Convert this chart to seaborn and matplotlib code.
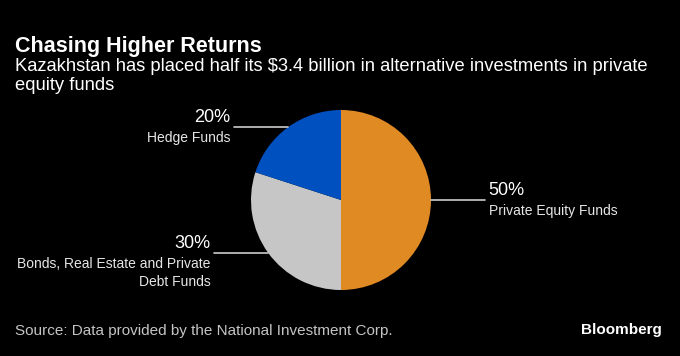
import numpy as np
import seaborn as sns
import matplotlib.pyplot as plt

# data
labels = ['Private Equity Funds', 'Bonds, Real Estate and Private\nDebt Funds', 'Hedge Funds']
shares = [50, 30, 20]
colors = ['#E08A24', '#C6C6C6', '#0050C0']

sns.set_style('dark')
plt.rcParams['font.family'] = ['Liberation Sans', 'DejaVu Sans']

fig = plt.figure(figsize=(6.8, 3.56), dpi=100, facecolor='black')
W, H = 680, 356

# pie axes: centre (341, 200), radius 90 px
ax = fig.add_axes([(341 - 90) / W, (H - 290) / H, 180 / W, 180 / H])
ax.set_facecolor('black')
wedges, _ = ax.pie(shares, colors=colors, startangle=90, counterclock=False,
                   radius=1, wedgeprops=dict(linewidth=0))
ax.set_xlim(-1, 1)
ax.set_ylim(-1, 1)
ax.set_aspect('equal')
ax.axis('off')

line_len = 0.6
for w, lab, s in zip(wedges, labels, shares):
    mid = np.deg2rad((w.theta1 + w.theta2) / 2)
    x0, y0 = np.cos(mid), np.sin(mid)
    side = 1 if x0 > 0.1 else -1
    x1 = x0 + side * line_len
    ax.plot([x0, x1], [y0, y0], color='#cccccc', lw=1.2, clip_on=False)
    xt = x1 + side * 0.04
    ha = 'left' if side > 0 else 'right'
    ax.annotate(f'{s}%', (xt, y0), xytext=(0, 1), textcoords='offset points',
                ha=ha, va='bottom', color='white', fontsize=13,
                annotation_clip=False)
    ax.annotate(lab, (xt, y0), xytext=(0, -3), textcoords='offset points',
                ha=ha, va='top', color='#e6e6e6', fontsize=10,
                multialignment=ha, linespacing=1.35, annotation_clip=False)

fig.text(15 / W, 1 - 36 / H, 'Chasing Higher Returns', color='white',
         fontsize=15.5, fontweight='bold', va='top', ha='left')
fig.text(15 / W, 1 - 58 / H,
         'Kazakhstan has placed half its $3.4 billion in alternative investments in private\nequity funds',
         color='white', fontsize=13.2, va='top', ha='left', linespacing=1.15)
fig.text(15 / W, 1 - 331 / H, 'Source: Data provided by the National Investment Corp.',
         color='#c4c4c4', fontsize=11, va='center', ha='left')
fig.text(662 / W, 1 - 330 / H, 'Bloomberg', color='white', fontsize=11,
         fontweight='bold', va='center', ha='right')

fig.savefig('out.png', dpi=100, facecolor='black')
